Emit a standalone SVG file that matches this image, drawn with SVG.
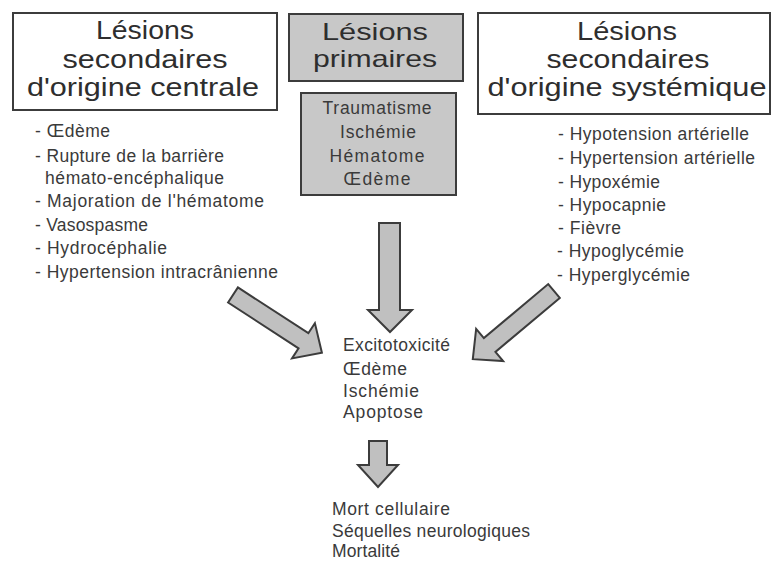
<svg xmlns="http://www.w3.org/2000/svg" width="772" height="563" viewBox="0 0 772 563">
<style>
.box{fill:#ffffff;stroke:#3c3c3c;stroke-width:2}
.gbox{fill:#c8c8c8;stroke:#3c3c3c;stroke-width:2}
.title{font-family:"Liberation Sans",Arial,sans-serif;font-size:25px;fill:#2e2e2e;text-anchor:middle}
.pt{font-size:24px}
.t{font-family:"Liberation Sans",Arial,sans-serif;font-size:17.5px;fill:#3a3a3a}
.c{text-anchor:middle}
.arrow{fill:#c0c0c0;stroke:#3c3c3c;stroke-width:2;stroke-linejoin:miter}
</style>
<rect width="772" height="563" fill="#ffffff"/>
<g id="node-secondaires-centrale">
<rect class="box" x="13" y="13" width="264" height="97"/>
<text class="title" x="145" y="39" textLength="98" lengthAdjust="spacingAndGlyphs">Lésions</text>
<text class="title" x="145" y="68" textLength="165" lengthAdjust="spacingAndGlyphs">secondaires</text>
<text class="title" x="143" y="96" textLength="232" lengthAdjust="spacingAndGlyphs">d'origine centrale</text>
</g>
<g id="node-primaires">
<rect class="gbox" x="289" y="14" width="174" height="67"/>
<text class="title pt" x="375" y="40" textLength="106" lengthAdjust="spacingAndGlyphs">Lésions</text>
<text class="title pt" x="375" y="67" textLength="124" lengthAdjust="spacingAndGlyphs">primaires</text>
</g>
<g id="node-primaires-list">
<rect class="gbox" x="301" y="93" width="155" height="102"/>
<text class="t c" x="377" y="114" textLength="109">Traumatisme</text>
<text class="t c" x="378" y="138" textLength="76">Ischémie</text>
<text class="t c" x="377" y="162" textLength="95">Hématome</text>
<text class="t c" x="377" y="185" textLength="67">Œdème</text>
</g>
<g id="node-secondaires-systemique">
<rect class="box" x="478" y="13" width="292" height="101"/>
<text class="title" x="627" y="40" textLength="100" lengthAdjust="spacingAndGlyphs">Lésions</text>
<text class="title" x="628" y="68" textLength="163" lengthAdjust="spacingAndGlyphs">secondaires</text>
<text class="title" x="627" y="96" textLength="279" lengthAdjust="spacingAndGlyphs">d'origine systémique</text>
</g>
<g id="node-centrale-list">
<text class="t" x="35" y="137" textLength="75">- Œdème</text>
<text class="t" x="35" y="162" textLength="189">- Rupture de la barrière</text>
<text class="t" x="45" y="184" textLength="179">hémato-encéphalique</text>
<text class="t" x="35" y="207" textLength="229">- Majoration de l'hématome</text>
<text class="t" x="35" y="231" textLength="113">- Vasospasme</text>
<text class="t" x="35" y="254" textLength="132">- Hydrocéphalie</text>
<text class="t" x="35" y="278" textLength="243">- Hypertension intracrânienne</text>
</g>
<g id="node-systemique-list">
<text class="t" x="558" y="140" textLength="191">- Hypotension artérielle</text>
<text class="t" x="558" y="164" textLength="197">- Hypertension artérielle</text>
<text class="t" x="558" y="188" textLength="102">- Hypoxémie</text>
<text class="t" x="558" y="211" textLength="108">- Hypocapnie</text>
<text class="t" x="558" y="234" textLength="63">- Fièvre</text>
<text class="t" x="557" y="257" textLength="127">- Hypoglycémie</text>
<text class="t" x="557" y="281" textLength="133">- Hyperglycémie</text>
</g>
<g id="node-mecanismes">
<text class="t" x="343" y="351" textLength="107">Excitotoxicité</text>
<text class="t" x="343" y="375" textLength="64">Œdème</text>
<text class="t" x="343" y="397" textLength="76">Ischémie</text>
<text class="t" x="343" y="418" textLength="80">Apoptose</text>
</g>
<g id="node-consequences">
<text class="t" x="332" y="515" textLength="118">Mort cellulaire</text>
<text class="t" x="332" y="537" textLength="198">Séquelles neurologiques</text>
<text class="t" x="332" y="557" textLength="68">Mortalité</text>
</g>
<g id="connectors">
<path class="arrow" d="M379,223 L400,223 L400,310 L412,310 L390,332 L368,310 L379,310 Z"/>
<path class="arrow" transform="translate(233,295) rotate(33)" d="M0,-9 L84,-9 L84,-21 L106,0 L84,21 L84,9 L0,9 Z"/>
<path class="arrow" transform="translate(554,291) rotate(140)" d="M0,-9 L84,-9 L84,-21 L106,0 L84,21 L84,9 L0,9 Z"/>
<path class="arrow" d="M369,441 L387,441 L387,465 L398,465 L378,487 L358,465 L369,465 Z"/>
</g>
</svg>
